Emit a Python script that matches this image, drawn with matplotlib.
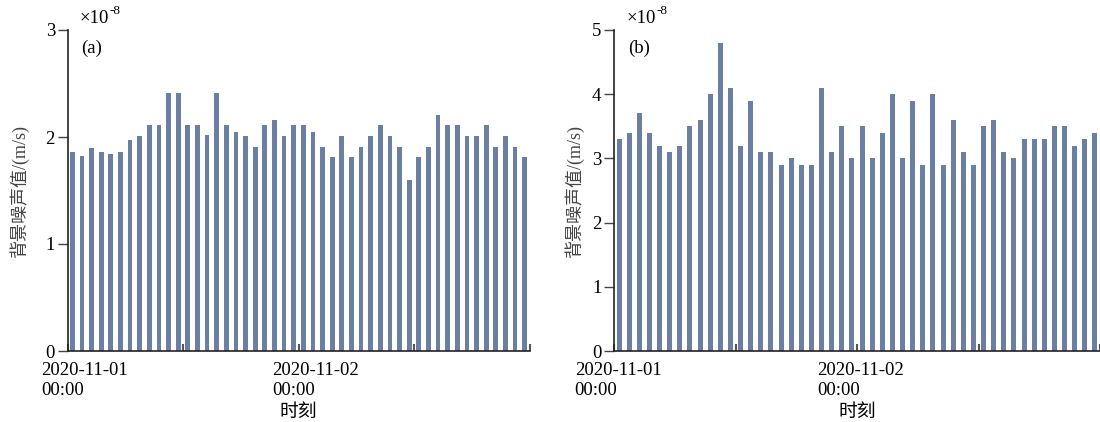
import matplotlib
matplotlib.use("Agg")
import matplotlib.pyplot as plt
import matplotlib.transforms as mtransforms
import numpy as np

plt.rcParams["font.family"] = ["Liberation Serif", "Noto Sans CJK SC"]
plt.rcParams["mathtext.fontset"] = "stix"

BAR_COLOR = "#6b7fa2"

hours = np.arange(48)
tick_hours = [0, 24]
tick_labels = ["2020-11-01\n00:00", "2020-11-02\n00:00"]
minor_hours = [12, 36, 48]

noise_a = [1.86, 1.82, 1.90, 1.86, 1.84, 1.86, 1.97, 2.01, 2.11, 2.11, 2.41, 2.41,
           2.11, 2.11, 2.02, 2.41, 2.11, 2.05, 2.01, 1.91, 2.11, 2.16, 2.01, 2.11,
           2.11, 2.05, 1.91, 1.81, 2.01, 1.81, 1.91, 2.01, 2.11, 2.01, 1.91, 1.60,
           1.81, 1.91, 2.21, 2.11, 2.11, 2.01, 2.01, 2.11, 1.91, 2.01, 1.91, 1.81]
noise_b = [3.3, 3.4, 3.7, 3.4, 3.2, 3.1, 3.2, 3.5, 3.6, 4.0, 4.8, 4.1,
           3.2, 3.9, 3.1, 3.1, 2.9, 3.0, 2.9, 2.9, 4.1, 3.1, 3.5, 3.0,
           3.5, 3.0, 3.4, 4.0, 3.0, 3.9, 2.9, 4.0, 2.9, 3.6, 3.1, 2.9,
           3.5, 3.6, 3.1, 3.0, 3.3, 3.3, 3.3, 3.5, 3.5, 3.2, 3.3, 3.4]

W, H = 1100, 422
fig = plt.figure(figsize=(W / 100, H / 100), dpi=100)

panels = [
    # (values, ymax, tag, axes rect in px, label shift px, ylabel x)
    (noise_a, 3, "(a)", (67.5, 30, 462, 321), 17, -0.083),
    (noise_b, 5, "(b)", (614, 30, 486, 321), 4, -0.062),
]

for values, ymax, tag, (x0, y0, w, h), shift, ylab_x in panels:
    ax = fig.add_axes([x0 / W, (H - y0 - h) / H, w / W, h / H])
    ax.bar(hours + 0.5, values, width=0.5, color=BAR_COLOR, zorder=2)
    ax.set_xlim(0, 48)
    ax.set_ylim(0, ymax)
    ax.set_yticks(np.arange(0, ymax + 1))
    ax.set_xticks(tick_hours)
    ax.set_xticklabels(tick_labels, multialignment="left", linespacing=1.25)
    ax.set_xticks(minor_hours, minor=True)
    for spine in ["top", "right"]:
        ax.spines[spine].set_visible(False)
    for spine in ["left", "bottom"]:
        ax.spines[spine].set_color("#222222")
        ax.spines[spine].set_linewidth(1.2)
    ax.tick_params(axis="y", direction="out", length=7, width=1, labelsize=13.5, color="#444444", pad=2)
    ax.tick_params(axis="x", which="both", direction="in", length=5, width=1.5, labelsize=13.5, color="#555555", pad=8)
    offset = mtransforms.ScaledTranslation(shift / 100, 0, fig.dpi_scale_trans)
    for lbl in ax.get_xticklabels():
        lbl.set_transform(lbl.get_transform() + offset)
    ax.set_ylabel("背景噪声值/(m/s)", fontsize=13, color="#444444")
    ax.yaxis.set_label_coords(ylab_x, 0.5)
    ax.set_xlabel("时刻", fontsize=13.5, labelpad=3)
    base = ax.text(0.025, 1.01, "×10", transform=ax.transAxes, fontsize=13.5,
                   ha="left", va="bottom")
    ax.annotate("-8", xy=(1.0, 0.95), xycoords=base, xytext=(1, 0), textcoords="offset points",
                fontsize=9.5, ha="left", va="center")
    ax.text(0.03, 0.97, tag, transform=ax.transAxes, fontsize=13.5, ha="left", va="top")

fig.savefig("out.png", dpi=100)
